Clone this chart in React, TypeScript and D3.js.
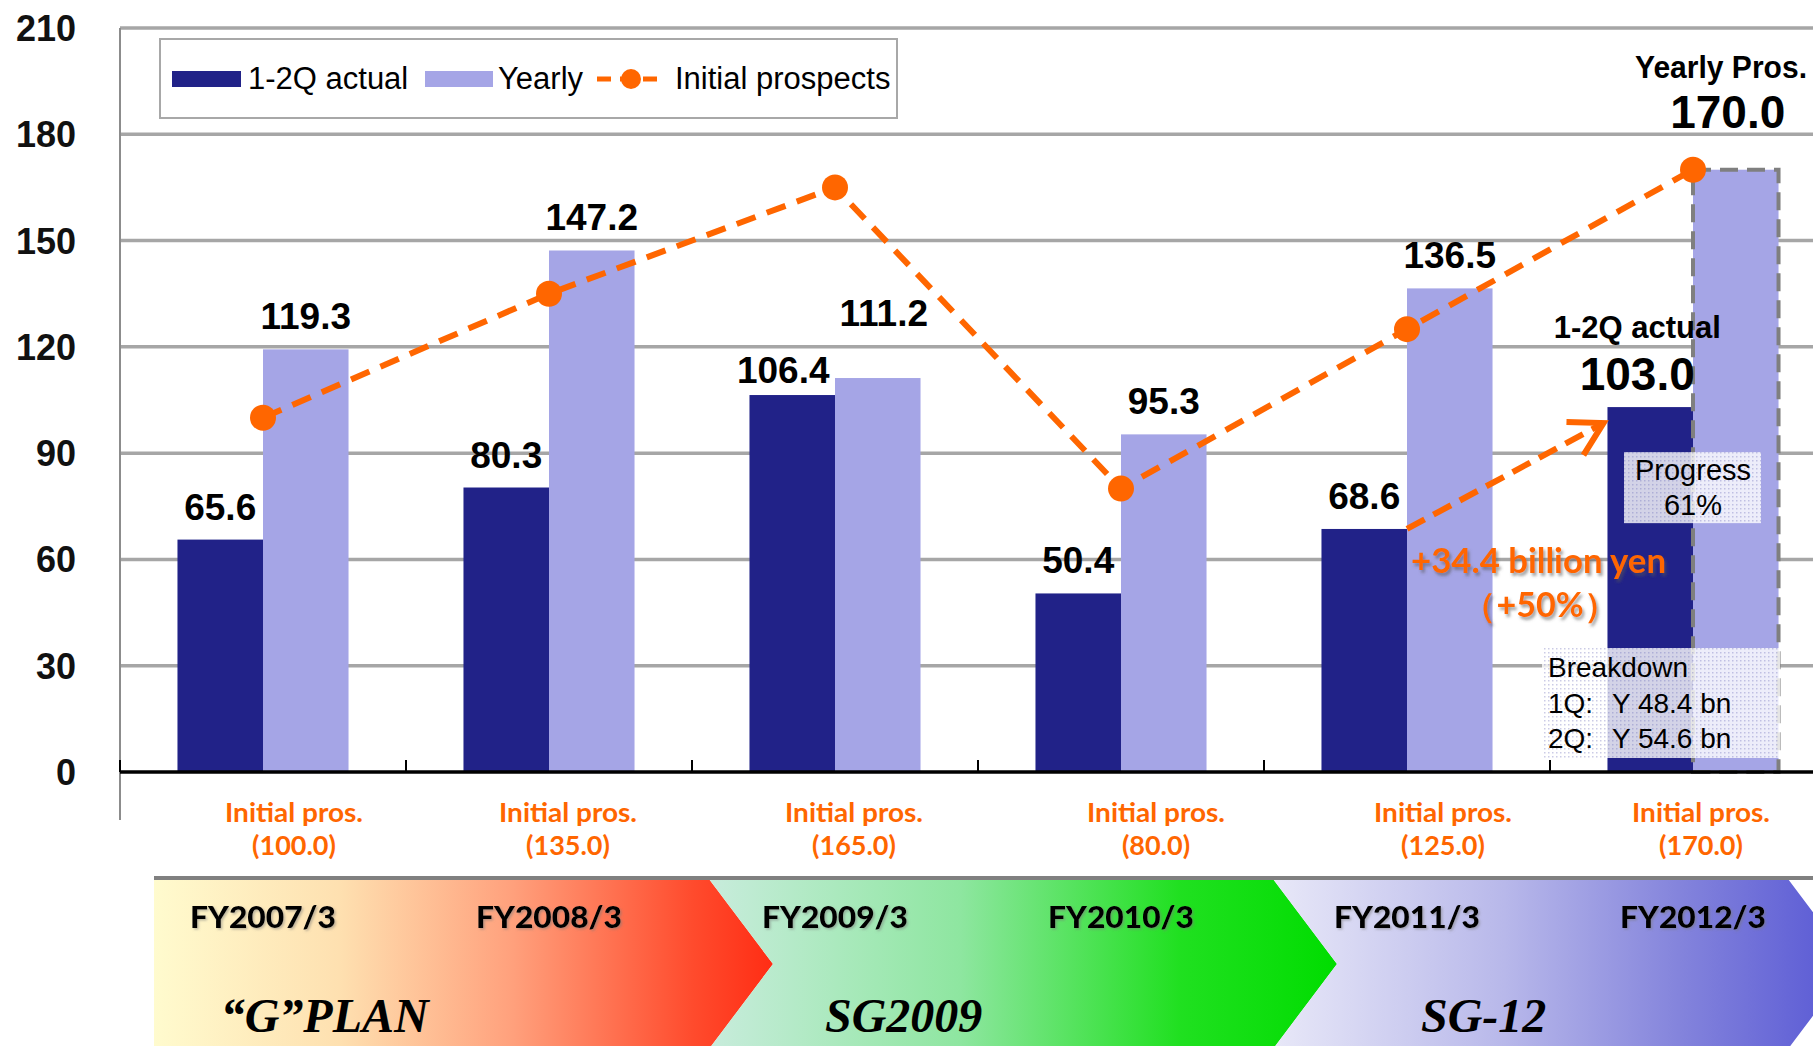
import * as d3 from "d3";

const categories = ["FY2007/3", "FY2008/3", "FY2009/3", "FY2010/3", "FY2011/3", "FY2012/3"];
const actual = [65.6, 80.3, 106.4, 50.4, 68.6, 103.0];
const yearly = [119.3, 147.2, 111.2, 95.3, 136.5, 170.0];
const initial = [100.0, 135.0, 165.0, 80.0, 125.0, 170.0];
const yTicks = [0, 30, 60, 90, 120, 150, 180, 210];
const plans = ["\u201CG\u201DPLAN", "SG2009", "SG-12"];
const legendLabels = ["1-2Q actual", "Yearly", "Initial prospects"];
const breakdown = [
  ["1Q:", "Y 48.4 bn"],
  ["2Q:", "Y 54.6 bn"],
];
const progressText = "61%";
const increaseText = "+34.4 billion yen";
const increasePct = "\uFF08+50%\uFF09";

const DARK = "#212288";
const LIGHT = "#A5A5E6";
const ORANGE = "#FF6600";
const SANS = "'Liberation Sans', Arial, sans-serif";
const CAL = "Lato, 'Open Sans', sans-serif";

// banner chevron edges and label nudges (layout)
const planEdges = [154, 709, 1273, 1788];
const planShift = [-7, 0, 8];
const prosShift = [31, 19, 19, 35, 36, 8];
const planStops = [
  [["0", "#FFFBCE"], ["0.3", "#FEE0B0"], ["0.58", "#FFA07C"], ["0.87", "#FF4B2D"], ["1", "#FF2D14"]],
  [["0", "#C8ECDC"], ["0.4", "#8EE6A0"], ["0.75", "#20E020"], ["1", "#00DD00"]],
  [["0", "#E8E8F8"], ["0.4", "#B8B8EA"], ["0.7", "#8484DC"], ["1", "#5656D4"]],
];

export default function App() {
  const W = 1813;
  const H = 1046;
  const x0 = d3.scaleBand<string>().domain(categories).range([120, 1836]).padding(0);
  const x1 = d3
    .scaleBand<string>()
    .domain(["actual", "yearly"])
    .range([0, x0.bandwidth()])
    .paddingInner(0)
    .paddingOuter(0.672);
  const y = d3.scaleLinear().domain([0, 210]).range([772, 28]);
  const bw = x1.bandwidth();
  const cx = (c: string) => (x0(c) ?? 0) + x0.bandwidth() / 2;

  const lineGen = d3
    .line<number>()
    .x((_, i) => cx(categories[i]))
    .y((d) => y(d));

  const last = categories[categories.length - 1];
  const lastX = x0(last) ?? 0;
  const splitX = lastX + (x1("yearly") ?? 0);

  // arrow between 1-2Q of FY2011/3 and FY2012/3
  const a0 = [(x0(categories[4]) ?? 0) + (x1("yearly") ?? 0), y(actual[4])];
  const a1 = [lastX + (x1("actual") ?? 0) - 4, y(actual[5]) + 16];

  const chev = 64;
  const top = 879;
  const bot = 1049;
  const mid = (top + bot) / 2;

  return (
    <svg
      width={W}
      height={H}
      viewBox={`0 0 ${W} ${H}`}
      style={{ position: "absolute", left: 0, top: 0, display: "block", background: "#fff" }}
    >
      <defs>
        {planStops.map((stops, i) => (
          <linearGradient
            key={i}
            id={`plan${i}`}
            gradientUnits="userSpaceOnUse"
            x1={planEdges[i]}
            x2={planEdges[i + 1] + chev}
            y1={0}
            y2={0}
          >
            {stops.map(([o, c]) => (
              <stop key={o} offset={o} stopColor={c} />
            ))}
          </linearGradient>
        ))}
        <pattern id="dots" width={4} height={4} patternUnits="userSpaceOnUse">
          <rect width={4} height={4} fill="#ffffff" fillOpacity={0.8} />
          <rect width={1.5} height={1.5} fill="#6a6ab8" fillOpacity={0.35} />
        </pattern>
        <filter id="shadow" x="-10%" y="-30%" width="130%" height="160%">
          <feDropShadow dx={2} dy={3} stdDeviation={1.5} floodColor="#555" floodOpacity={0.55} />
        </filter>
        <filter id="soft" x="-10%" y="-30%" width="130%" height="160%">
          <feDropShadow dx={1.5} dy={1.5} stdDeviation={1} floodColor="#777" floodOpacity={0.5} />
        </filter>
      </defs>

      {/* Gridlines */}
      {yTicks
        .filter((t) => t > 0)
        .map((t) => (
          <line key={t} x1={120} x2={W} y1={y(t)} y2={y(t)} stroke="#a6a6a6" strokeWidth={3.5} />
        ))}
      <line x1={120} x2={120} y1={y(210)} y2={820} stroke="#8c8c8c" strokeWidth={2} />

      {/* Y tick labels */}
      {yTicks.map((t) => (
        <text
          key={t}
          x={76}
          y={y(t) + 13}
          textAnchor="end"
          fontFamily={SANS}
          fontWeight="bold"
          fontSize={36}
          fill="#111"
        >
          {t}
        </text>
      ))}

      {/* Bars */}
      {categories.map((c, i) => (
        <g key={c}>
          <rect
            x={(x0(c) ?? 0) + (x1("actual") ?? 0)}
            y={y(actual[i])}
            width={bw}
            height={y(0) - y(actual[i])}
            fill={DARK}
          />
          <rect
            x={(x0(c) ?? 0) + (x1("yearly") ?? 0)}
            y={y(yearly[i])}
            width={bw}
            height={y(0) - y(yearly[i])}
            fill={LIGHT}
          />
        </g>
      ))}
      {/* Dashed outline of yearly prospect */}
      <rect
        x={splitX}
        y={y(yearly[5])}
        width={bw}
        height={y(0) - y(yearly[5])}
        fill="none"
        stroke="#7f7f7f"
        strokeWidth={4}
        strokeDasharray="18 9"
      />

      {/* Baseline & ticks */}
      <line x1={120} x2={W} y1={y(0)} y2={y(0)} stroke="#000" strokeWidth={3.5} />
      {d3.range(categories.length + 1).map((i) => (
        <line
          key={i}
          x1={120 + i * x0.step()}
          x2={120 + i * x0.step()}
          y1={y(0)}
          y2={y(0) - 12}
          stroke="#000"
          strokeWidth={2}
        />
      ))}

      {/* Value labels */}
      {categories.slice(0, 5).map((c, i) => {
        const ax = (x0(c) ?? 0) + (x1("actual") ?? 0) + bw / 2;
        const yx = (x0(c) ?? 0) + (x1("yearly") ?? 0) + bw / 2;
        const adj = i === 2 ? { ax: -9, ay: 8, yx: 6, yy: -32 } : { ax: 0, ay: 0, yx: 0, yy: 0 };
        return (
          <g key={c} fontFamily={SANS} fontWeight="bold" fontSize={37} fill="#000" textAnchor="middle">
            <text x={ax + adj.ax} y={y(actual[i]) - 20 + adj.ay}>
              {actual[i].toFixed(1)}
            </text>
            <text x={yx + adj.yx} y={y(yearly[i]) - 20 + adj.yy}>
              {yearly[i].toFixed(1)}
            </text>
          </g>
        );
      })}
      <g fontFamily={SANS} fontWeight="bold" fill="#000">
        <text
          x={lastX + (x1("actual") ?? 0) + bw / 2 - 13}
          y={y(actual[5]) - 69}
          fontSize={31}
          textAnchor="middle"
        >
          {legendLabels[0]}
        </text>
        <text
          x={lastX + (x1("actual") ?? 0) + bw / 2 - 13}
          y={y(actual[5]) - 17}
          fontSize={46}
          textAnchor="middle"
        >
          {actual[5].toFixed(1)}
        </text>
        <text
          x={splitX - 58}
          y={y(yearly[5]) - 92}
          fontSize={31}
          textLength={172}
          lengthAdjust="spacingAndGlyphs"
        >
          Yearly Pros.
        </text>
        <text x={splitX + bw / 2 - 8} y={y(yearly[5]) - 42} fontSize={46} textAnchor="middle">
          {yearly[5].toFixed(1)}
        </text>
      </g>

      {/* Initial prospects line */}
      <path
        d={lineGen(initial) ?? ""}
        fill="none"
        stroke={ORANGE}
        strokeWidth={6}
        strokeDasharray="20 12"
      />
      {initial.map((v, i) => (
        <circle key={i} cx={cx(categories[i])} cy={y(v)} r={13} fill={ORANGE} />
      ))}

      {/* Growth arrow */}
      <line
        x1={a0[0]}
        y1={a0[1]}
        x2={a1[0]}
        y2={a1[1]}
        stroke={ORANGE}
        strokeWidth={6}
        strokeDasharray="20 10"
      />
      <path
        d={`M${a1[0] - 37},${a1[1] - 1} L${a1[0]},${a1[1]} L${a1[0] - 20},${a1[1] + 32}`}
        fill="none"
        stroke={ORANGE}
        strokeWidth={6}
      />
      <g filter="url(#shadow)" fontFamily={CAL} fontWeight="bold" fill={ORANGE}>
        <text x={a0[0] + 4} y={a0[1] + 44} fontSize={34} textLength={255} lengthAdjust="spacingAndGlyphs">
          {increaseText}
        </text>
        <text x={a0[0] + 133} y={a0[1] + 88} fontSize={34} textAnchor="middle">
          {increasePct}
        </text>
      </g>

      {/* Progress box */}
      <rect x={splitX - 69} y={y(90) - 1} width={137} height={71} fill="url(#dots)" />
      <g fontFamily={SANS} fontSize={29} fill="#000" textAnchor="middle">
        <text x={splitX} y={y(90) + 27}>
          Progress
        </text>
        <text x={splitX} y={y(90) + 62}>
          {progressText}
        </text>
      </g>

      {/* Breakdown box */}
      <rect x={lastX - 8} y={648} width={238} height={110} fill="url(#dots)" />
      <g fontFamily={SANS} fontSize={28} fill="#000">
        <text x={lastX - 2} y={677}>
          Breakdown
        </text>
        {breakdown.map(([q, v], i) => (
          <g key={q}>
            <text x={lastX - 2} y={713 + i * 35}>
              {q}
            </text>
            <text x={lastX + 62} y={713 + i * 35}>
              {v}
            </text>
          </g>
        ))}
      </g>

      {/* Legend */}
      <rect x={160} y={39} width={737} height={79} fill="#fff" stroke="#a8a8a8" strokeWidth={2} />
      <rect x={172} y={71} width={69} height={16} fill={DARK} />
      <rect x={425} y={71} width={68} height={16} fill={LIGHT} />
      <line x1={597} x2={662} y1={79} y2={79} stroke={ORANGE} strokeWidth={5} strokeDasharray="14 9" />
      <circle cx={631} cy={79} r={10} fill={ORANGE} />
      <g fontFamily={SANS} fontSize={31} fill="#000">
        <text x={248} y={89}>
          {legendLabels[0]}
        </text>
        <text x={498} y={89}>
          {legendLabels[1]}
        </text>
        <text x={675} y={89}>
          {legendLabels[2]}
        </text>
      </g>

      {/* Initial prospects labels */}
      {categories.map((c, i) => (
        <g key={c} fontFamily={CAL} fontWeight="bold" fontSize={27} fill={ORANGE} textAnchor="middle">
          <text x={cx(c) + prosShift[i]} y={822} textLength={138} lengthAdjust="spacingAndGlyphs">
            Initial pros.
          </text>
          <text x={cx(c) + prosShift[i]} y={855}>
            ({initial[i].toFixed(1)})
          </text>
        </g>
      ))}

      {/* Banner */}
      {plans.map((p, i) => {
        const l = planEdges[i];
        const r = planEdges[i + 1];
        const d =
          i === 0
            ? `M${l},${top} L${r},${top} L${r + chev},${mid} L${r},${bot} L${l},${bot} Z`
            : `M${l},${top} L${r},${top} L${r + chev},${mid} L${r},${bot} L${l},${bot} L${l + chev},${mid} Z`;
        return <path key={p} d={d} fill={`url(#plan${i})`} />;
      })}
      <line x1={154} x2={W} y1={878} y2={878} stroke="#808080" strokeWidth={4} />
      {categories.map((c) => (
        <text
          key={c}
          x={cx(c)}
          y={928}
          textAnchor="middle"
          fontFamily={CAL}
          fontWeight="900"
          fontSize={31}
          fill="#000"
          textLength={146}
          lengthAdjust="spacingAndGlyphs"
          filter="url(#soft)"
        >
          {c}
        </text>
      ))}
      {plans.map((p, i) => (
        <text
          key={p}
          x={cx(categories[i * 2]) + 0.24 * x0.step() + planShift[i]}
          y={1032}
          textAnchor="middle"
          fontFamily="'Liberation Serif', 'Times New Roman', serif"
          fontStyle="italic"
          fontWeight="bold"
          fontSize={48}
          fill="#000"
        >
          {p}
        </text>
      ))}
    </svg>
  );
}
